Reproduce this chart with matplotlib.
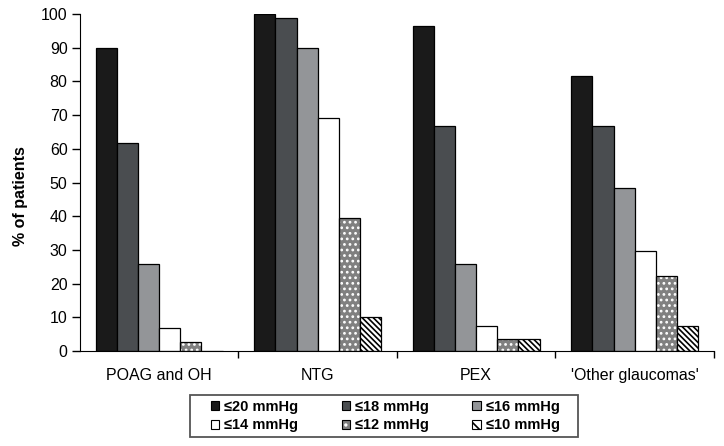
import numpy as np
import matplotlib
matplotlib.use("Agg")
import matplotlib.pyplot as plt
from matplotlib.patches import Patch, Rectangle

plt.rcParams['font.family'] = ['Liberation Sans', 'DejaVu Sans']
plt.rcParams['hatch.linewidth'] = 1.2

# datos
groups = ["POAG and OH", "NTG", "PEX", "'Other glaucomas'"]
labels = ["≤20 mmHg", "≤18 mmHg", "≤16 mmHg", "≤14 mmHg", "≤12 mmHg", "≤10 mmHg"]
le20 = [90.0, 100.0, 96.5, 81.6]
le18 = [61.8, 98.7, 66.7, 66.7]
le16 = [25.9, 90.0, 25.9, 48.3]
le14 = [6.7, 69.0, 7.4, 29.6]
le12 = [2.6, 39.4, 3.6, 22.3]
le10 = [0.0, 10.0, 3.6, 7.4]
series = [le20, le18, le16, le14, le12, le10]

# estilos: (relleno, trama, color de trama)
styles = [("#1a1a1a", None, None),
          ("#4a4d50", None, None),
          ("#939598", None, None),
          ("white", None, None),
          ("#808080", "...", "white"),
          ("white", "\\" * 6, "black")]

fig = plt.figure(figsize=(7.24, 4.46), dpi=100)
ax = fig.add_axes([0.1105, 0.213, 0.8755, 0.7556])

x = np.arange(len(groups))
n = len(series)
w = 0.8 / n
handles = []
for i, (vals, (fc, hatch, hc)) in enumerate(zip(series, styles)):
    pos = x + (i - (n - 1) / 2) * w
    if hatch:
        ax.bar(pos, vals, w, color=fc, edgecolor=hc, hatch=hatch, linewidth=0)
        ax.bar(pos, vals, w, facecolor="none", edgecolor="black", linewidth=0.9)
        h = (Patch(facecolor=fc, edgecolor=hc, hatch=hatch[:2], linewidth=0),
             Patch(facecolor="none", edgecolor="black", linewidth=0.8))
    else:
        ax.bar(pos, vals, w, color=fc, edgecolor="black", linewidth=0.9)
        h = Patch(facecolor=fc, edgecolor="black", linewidth=0.8)
    handles.append(h)

ax.set_xlim(-0.5, len(groups) - 0.5)
ax.set_ylim(0, 100)
ax.set_yticks(np.arange(0, 101, 10))
ax.set_xticks(x)
ax.set_xticklabels(groups, fontsize=11.5)
ax.set_xticks(np.arange(0.5, len(groups), 1), minor=True)
ax.tick_params(axis='x', which='major', length=0, pad=12)
ax.tick_params(axis='x', which='minor', length=5, direction='out', width=1)
ax.tick_params(axis='y', labelsize=11.5, length=6, width=1, pad=3)
ax.spines['top'].set_visible(False)
ax.spines['right'].set_visible(False)
ax.set_ylabel("% of patients", fontsize=11.5, fontweight='bold')
ax.yaxis.set_label_coords(-0.082, 0.46)

# leyenda en orden por filas, con marco dibujado aparte
order = [0, 3, 1, 4, 2, 5]
leg = fig.legend([handles[k] for k in order], [labels[k] for k in order],
                 ncol=3, loc='center', bbox_to_anchor=(0.532, 0.067),
                 frameon=False, prop={'weight': 'bold', 'size': 10.5},
                 handlelength=0.6, handleheight=0.6, handletextpad=0.3,
                 columnspacing=3.0, borderpad=0.2, labelspacing=0.3)
fig.patches.append(Rectangle((190 / 724, 1 - 437 / 446), 388 / 724, 42 / 446,
                             transform=fig.transFigure, fill=False,
                             edgecolor='#555555', linewidth=1.3))

fig.savefig("out.png", dpi=100)
